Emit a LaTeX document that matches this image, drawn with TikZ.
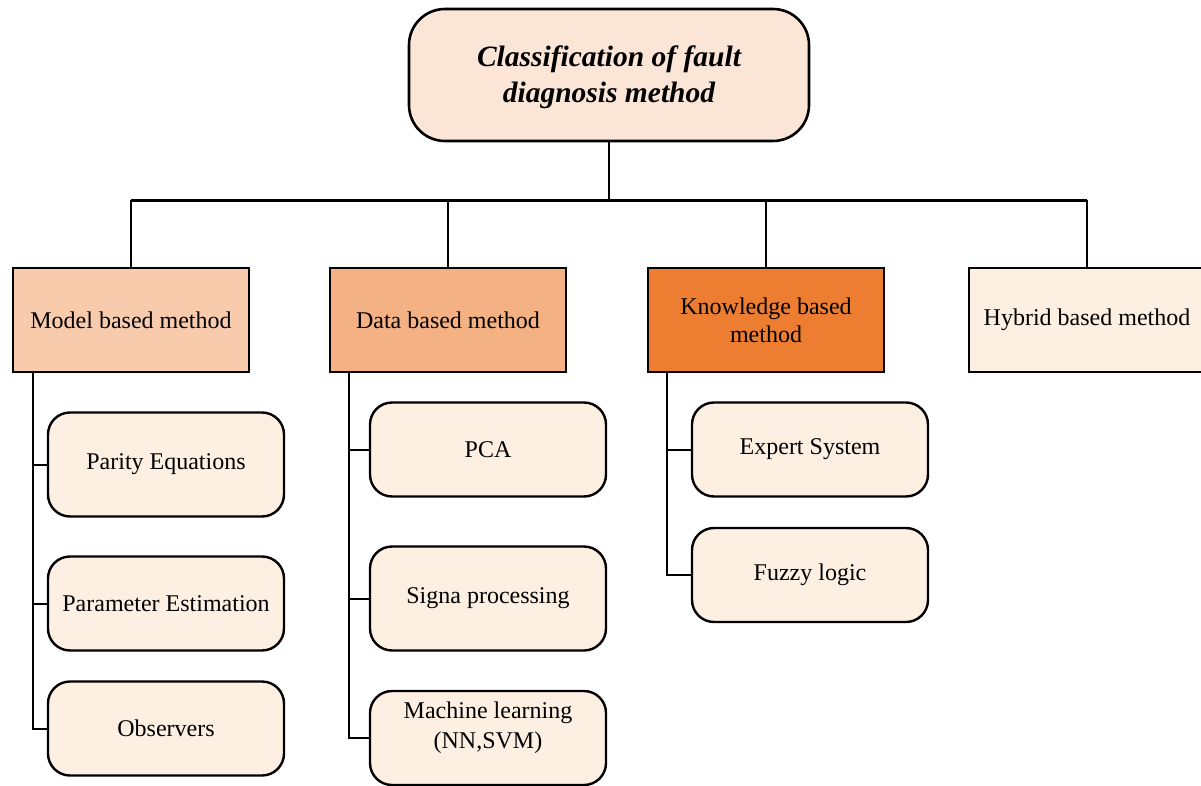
\documentclass[tikz,border=0pt]{standalone}
\usepackage{fontspec}
\setmainfont{Liberation Serif}
\usetikzlibrary{calc}
\definecolor{titlefill}{HTML}{FBE5D6}
\definecolor{modelfill}{HTML}{F8CBAD}
\definecolor{datafill}{HTML}{F4B183}
\definecolor{knowfill}{HTML}{ED7D31}
\definecolor{leaffill}{HTML}{FDF0E3}
\tikzset{
  titlebox/.style={draw=black, line width=2.6pt, fill=titlefill, rounded corners=36pt,
    minimum width=400pt, minimum height=132pt, inner sep=0pt, align=center,
    font=\fontsize{29.5}{36}\selectfont\bfseries\itshape},
  catbox/.style={draw=black, line width=2.8pt, minimum width=236pt, minimum height=104pt,
    inner sep=0pt, align=center, font=\fontsize{24}{28}\selectfont},
  leafbox/.style={draw=black, line width=2.4pt, fill=leaffill, rounded corners=22pt,
    minimum width=236pt, inner sep=0pt, align=center, font=\fontsize{24}{30}\selectfont},
  leaftext/.style={inner sep=0pt, align=center, font=\fontsize{24}{30}\selectfont},
  link/.style={draw=black, line width=2pt},
  buslink/.style={draw=black, line width=2.8pt},
}
\begin{document}
\begin{tikzpicture}[x=1pt,y=-1pt]
\useasboundingbox (0,0) rectangle (1201,786);
\clip (0,0) rectangle (1201,786);

% root
\node[titlebox] (root) at (609,75) {};
\node[titlebox, draw=none, fill=none] (roottext) at (609,77) {Classification of fault\\diagnosis method};

% method families
\node[catbox, fill=modelfill] (model) at (131,320) {Model based method};
\node[catbox, fill=datafill] (data) at (448,320) {Data based method};
\node[catbox, fill=knowfill] (know) at (766,320) {Knowledge based\\method};
\node[catbox, fill=leaffill] (hybrid) at (1087,320) {Hybrid based method};

% model based techniques
\node[leafbox, minimum height=104pt] (parity) at (166,464.5) {Parity Equations};
\node[leafbox, minimum height=94pt] (param) at (166,603.5) {Parameter Estimation};
\node[leafbox, minimum height=94pt] (obs) at (166,728.5) {Observers};

% data based techniques
\node[leafbox, minimum height=94pt] (pca) at (488,449.5) {PCA};
\node[leafbox, minimum height=104pt] (signa) at (488,598.5) {Signa processing};
\node[leafbox, minimum height=94pt] (ml) at (488,738) {};
\node[leaftext] (mltext) at (488,728) {Machine learning\\(NN,SVM)};

% knowledge based techniques
\node[leafbox, minimum height=94pt] (expert) at (810,449.5) {Expert System};
\node[leafbox, minimum height=94pt] (fuzzy) at (810,575) {Fuzzy logic};

% tree connectors
\coordinate (bus) at ($(root.south)+(0,58)$);
\draw[link] (root.south) -- (bus);
\draw[buslink] (model.north |- bus) -- (hybrid.north |- bus);
\foreach \n in {model,data,know,hybrid}
  \draw[link] (\n.north |- bus) -- (\n.north);

% branch trunks
\coordinate (mt) at ($(model.south west)+(21,0)$);
\coordinate (dt) at ($(data.south west)+(20,0)$);
\coordinate (kt) at ($(know.south west)+(20,0)$);
\draw[link] (mt) |- (obs.west);
\draw[link] (mt |- parity.west) -- (parity.west);
\draw[link] (mt |- param.west) -- (param.west);
\draw[link] (dt) |- (ml.west);
\draw[link] (dt |- pca.west) -- (pca.west);
\draw[link] (dt |- signa.west) -- (signa.west);
\draw[link] (kt) |- (fuzzy.west);
\draw[link] (kt |- expert.west) -- (expert.west);
\end{tikzpicture}
\end{document}
